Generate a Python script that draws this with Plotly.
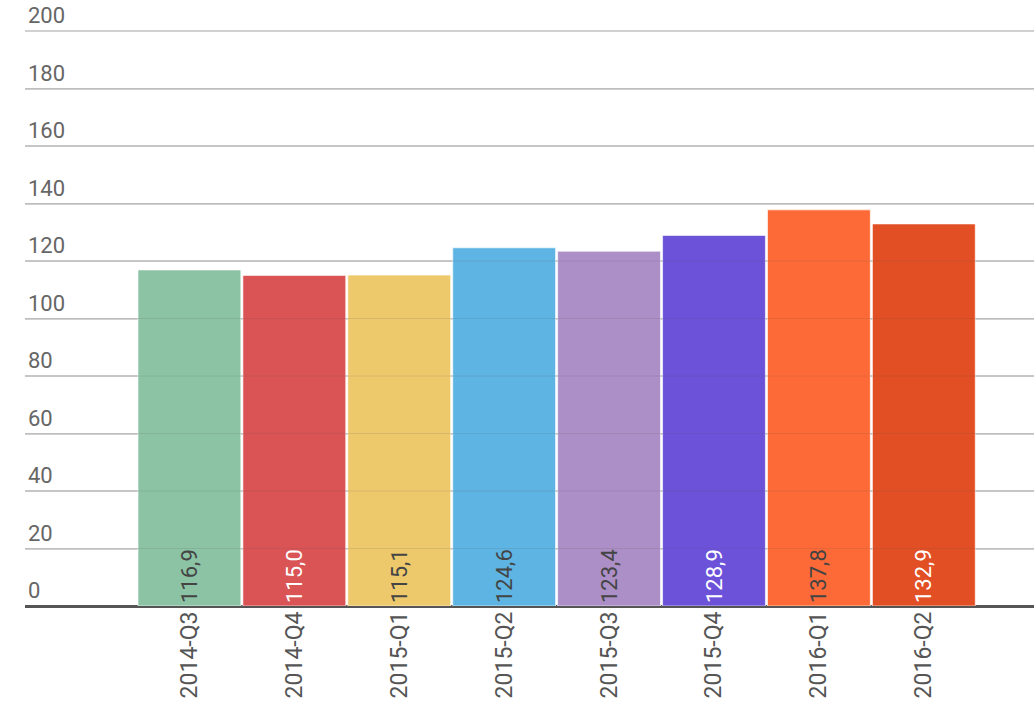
import plotly.graph_objects as go

categories = ["2014-Q3", "2014-Q4", "2015-Q1", "2015-Q2", "2015-Q3", "2015-Q4", "2016-Q1", "2016-Q2"]
values = [116.9, 115.0, 115.1, 124.6, 123.4, 128.9, 137.8, 132.9]
bar_colors = ["#8cc3a5", "#da5355", "#eec96c", "#5eb4e2", "#ab8fc6", "#6b52d9", "#fd6a37", "#e24f24"]
label_colors = ["#444444", "#ffffff", "#444444", "#444444", "#444444", "#ffffff", "#444444", "#ffffff"]
y_ticks = [0, 20, 40, 60, 80, 100, 120, 140, 160, 180, 200]

fig = go.Figure()
fig.add_trace(go.Bar(
    x=list(range(len(categories))),
    y=values,
    marker=dict(color=bar_colors, line=dict(color="rgba(255,255,255,0.6)", width=1)),
    texttemplate="%{y:.1f}",
    textposition="inside",
    insidetextanchor="start",
    textangle=-90,
    textfont=dict(family="Roboto", size=22, color=label_colors),
    cliponaxis=False,
    hoverinfo="skip",
))

# faint gridlines visible over bars
for t in y_ticks[1:-1]:
    fig.add_shape(type="line", xref="paper", yref="y", x0=0, x1=1, y0=t, y1=t,
                  line=dict(color="rgba(90,90,90,0.15)", width=1), layer="above")

fig.update_layout(
    width=1034, height=713,
    margin=dict(l=25, r=0, t=0, b=107, autoexpand=False),
    paper_bgcolor="white", plot_bgcolor="white",
    separators=",.",
    bargap=0.02,
    showlegend=False,
    font=dict(family="Roboto", color="#555555"),
)
fig.update_xaxes(
    range=[-1.567, 8.05],
    tickmode="array",
    tickvals=list(range(len(categories))),
    ticktext=categories,
    tickangle=-90,
    tickfont=dict(family="Roboto", size=23, color="#555555"),
    showgrid=False, zeroline=False, showline=False, ticks="",
    automargin=False,
)
fig.update_yaxes(
    range=[0, 210.8],
    tickmode="array",
    tickvals=y_ticks,
    ticklabelposition="inside top",
    tickfont=dict(family="Roboto", size=22, color="#666666"),
    showgrid=True, gridcolor="#d0d0d0", gridwidth=2,
    zeroline=True, zerolinecolor="#555555", zerolinewidth=3,
    showline=False, ticks="",
    automargin=False,
)

fig.write_html("out.html", config={"displayModeBar": False},
               post_script="document.body.style.margin='0';")
